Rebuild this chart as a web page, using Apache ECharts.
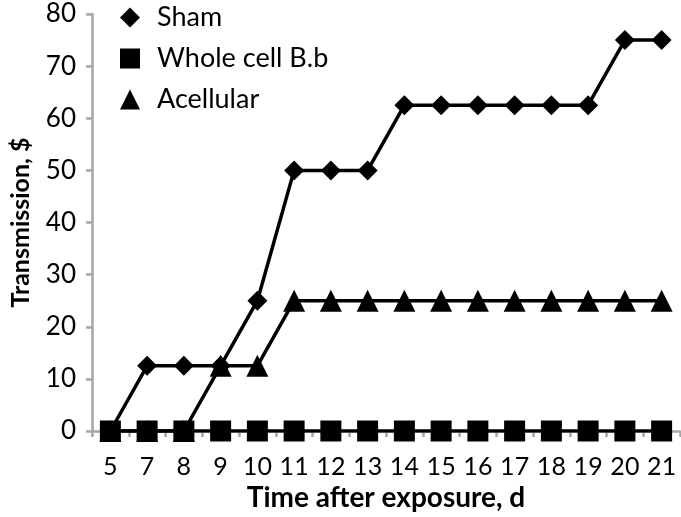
<!DOCTYPE html>
<html>
<head>
<meta charset="utf-8">
<script src="https://cdn.jsdelivr.net/npm/echarts@6/dist/echarts.min.js"></script>
<style>
html, body { margin: 0; padding: 0; background: #fff; }
#chart { width: 681px; height: 517px; }
</style>
</head>
<body>
<div id="chart"></div>
<script>
const days = ['5', '7', '8', '9', '10', '11', '12', '13', '14', '15', '16', '17', '18', '19', '20', '21'];
const sham = [0, 12.5, 12.5, 12.5, 25, 50, 50, 50, 62.5, 62.5, 62.5, 62.5, 62.5, 62.5, 75, 75];
const wholeCell = [0, 0, 0, 0, 0, 0, 0, 0, 0, 0, 0, 0, 0, 0, 0, 0];
const acellular = [0, 0, 0, 12.5, 12.5, 25, 25, 25, 25, 25, 25, 25, 25, 25, 25, 25];
const yTicks = { min: 0, max: 80, interval: 10 };

const font = 'Lato';
const chart = echarts.init(document.getElementById('chart'));

function lineSeries(name, data, symbol, size, z) {
    return {
        name: name,
        type: 'line',
        data: data,
        symbol: symbol,
        symbolSize: size,
        z: z,
        animation: false,
        lineStyle: { color: '#000', width: 3.5 },
        itemStyle: { color: '#000' }
    };
}

chart.setOption({
    textStyle: { fontFamily: font },
    grid: { left: 88, right: 1, top: 14, bottom: 86 },
    legend: {
        orient: 'vertical',
        left: 115,
        top: -1,
        itemWidth: 20,
        itemHeight: 20,
        itemGap: 14,
        textStyle: { fontSize: 27, color: '#000', fontFamily: font, padding: [0, 0, 0, 12] },
        data: [
            { name: 'Sham', icon: 'diamond' },
            { name: 'Whole cell B.b', icon: 'rect' },
            { name: 'Acellular', icon: 'triangle' }
        ]
    },
    xAxis: {
        type: 'category',
        data: days,
        boundaryGap: true,
        name: 'Time after exposure, d',
        nameLocation: 'middle',
        nameGap: 50,
        nameTextStyle: { fontSize: 28, fontWeight: 'bold', color: '#000', fontFamily: font },
        axisLine: { lineStyle: { color: '#a6a6a6', width: 2.5 } },
        axisTick: { show: true, length: 6, lineStyle: { color: '#a6a6a6', width: 2.5 } },
        axisLabel: { fontSize: 25, color: '#000', margin: 23, fontFamily: font, interval: 0 }
    },
    yAxis: {
        type: 'value',
        min: yTicks.min,
        max: yTicks.max,
        interval: yTicks.interval,
        name: 'Transmission, $',
        nameLocation: 'middle',
        nameGap: 59,
        nameTextStyle: { fontSize: 25, fontWeight: 'bold', color: '#000', fontFamily: font },
        splitLine: { show: false },
        axisLine: { show: true, lineStyle: { color: '#a6a6a6', width: 2.5 } },
        axisTick: { show: true, length: 6, lineStyle: { color: '#a6a6a6', width: 2.5 } },
        axisLabel: { fontSize: 26, color: '#000', margin: 16, fontFamily: font }
    },
    series: [
        lineSeries('Sham', sham, 'diamond', 20, 2),
        lineSeries('Acellular', acellular, 'triangle', 22, 3),
        lineSeries('Whole cell B.b', wholeCell, 'rect', 21, 4)
    ]
});
</script>
</body>
</html>
